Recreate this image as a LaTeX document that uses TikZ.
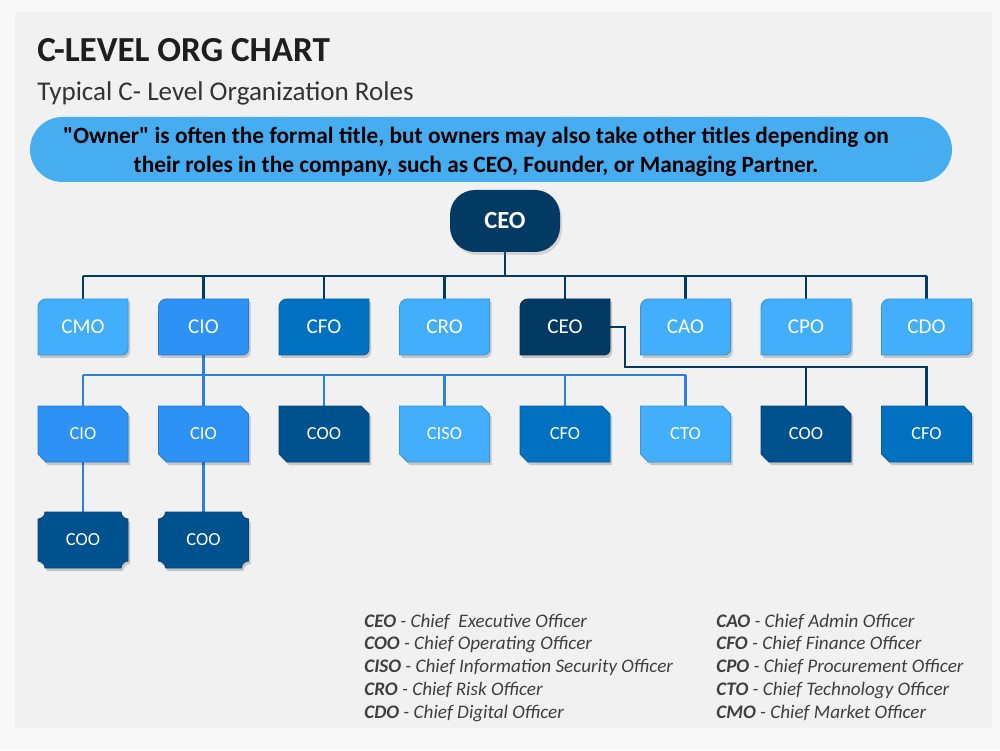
\documentclass[tikz,border=0pt]{standalone}
\usepackage{fontspec}
\setmainfont{Carlito}
\usetikzlibrary{calc,shadows}
\pgfdeclarelayer{back}
\pgfdeclarelayer{wires}
\pgfdeclarelayer{boxes}
\pgfsetlayers{back,wires,boxes,main}

% box outlines, drawn round the centre of a node (1.8cm x 1.12cm)
\tikzset{boxline/.style={fill=#1,draw=#1!85!black,line width=0.5pt,
  preaction={fill=black,opacity=0.18,transform canvas={shift={(0.04,-0.06)}}}}}
\newcommand\topshape[2]{%
  \filldraw[shift={(#1.center)},boxline=#2]
    (-0.9,-0.56) -- (-0.9,0.4) arc[start angle=180,end angle=90,radius=0.16]
    -- (0.9,0.56) -- (0.9,-0.44) arc[start angle=0,end angle=-90,radius=0.12] -- cycle;}
\newcommand\midshape[2]{%
  \filldraw[shift={(#1.center)},boxline=#2]
    (-0.9,-0.4) -- (-0.9,0.56) -- (0.74,0.56) -- (0.9,0.4)
    -- (0.9,-0.56) -- (-0.74,-0.56) -- cycle;}
\newcommand\lowshape[2]{%
  \filldraw[shift={(#1.center)},boxline=#2]
    (-0.9,-0.42) -- (-0.9,0.42) arc[start angle=-90,end angle=0,radius=0.14]
    -- (0.76,0.56) arc[start angle=180,end angle=270,radius=0.14]
    -- (0.9,-0.42) arc[start angle=90,end angle=180,radius=0.14]
    -- (-0.76,-0.56) arc[start angle=0,end angle=90,radius=0.14] -- cycle;}

\begin{document}
\begin{tikzpicture}[x=1cm,y=1cm,line cap=round,line join=round,
  unit/.style={minimum width=1.8cm,minimum height=1.12cm,inner sep=0pt,text=white},
  topunit/.style={unit,font=\fontsize{12}{14}\selectfont,
    append after command={\pgfextra{\begin{pgfonlayer}{boxes}\topshape{\tikzlastnode}{#1}\end{pgfonlayer}}}},
  midunit/.style={unit,font=\fontsize{10.5}{12}\selectfont,
    append after command={\pgfextra{\begin{pgfonlayer}{boxes}\midshape{\tikzlastnode}{#1}\end{pgfonlayer}}}},
  lowunit/.style={unit,font=\fontsize{10.5}{12}\selectfont,
    append after command={\pgfextra{\begin{pgfonlayer}{boxes}\lowshape{\tikzlastnode}{#1}\end{pgfonlayer}}}},
  key/.style={anchor=base west,inner sep=0pt,text=keytxt,
    font=\fontsize{10.9}{12}\selectfont\itshape}]
  \definecolor{pagebg}{HTML}{F8F8F8}
  \definecolor{panel}{HTML}{F1F1F1}
  \definecolor{note}{HTML}{47ADF1}
  \definecolor{navy}{HTML}{023A63}
  \definecolor{deep}{HTML}{00528F}
  \definecolor{mid}{HTML}{0070C0}
  \definecolor{sky}{HTML}{2D91F5}
  \definecolor{pale}{HTML}{42AEFC}
  \definecolor{wire}{HTML}{2F80D8}
  \definecolor{ink}{HTML}{1E1E1E}
  \definecolor{subtxt}{HTML}{333333}
  \definecolor{keytxt}{HTML}{3F3F3F}

  \begin{pgfonlayer}{back}
    \fill[pagebg] (0,0) rectangle (20,15);
    \fill[panel] (0.3,0.44) rectangle (19.84,14.76);
  \end{pgfonlayer}

  % heading
  \node[ink,anchor=base west,inner sep=0pt,font=\bfseries\fontsize{20}{24}\selectfont]
    (title) at (0.74,13.76) {C-LEVEL ORG CHART};
  \node[subtxt,anchor=base west,inner sep=0pt,font=\fontsize{15.4}{18}\selectfont]
    (subtitle) at (0.74,12.98) {Typical C- Level Organization Roles};

  % note band
  \node[fill=note,rounded corners=0.65cm,minimum width=18.44cm,minimum height=1.3cm]
    (band) at (9.82,12.01) {};
  \node[align=center,inner sep=0pt,font=\bfseries\fontsize{13.3}{16.5}\selectfont]
    (notetext) at (9.52,11.96) {\textquotedbl Owner\textquotedbl{} is often the formal title, but owners may also take other titles depending on\\
    their roles in the company, such as CEO, Founder, or Managing Partner.};

  % top of the chart
  \node[fill=navy,text=white,rounded corners=0.5cm,minimum width=2.2cm,minimum height=1.24cm,
    font=\bfseries\fontsize{14}{16}\selectfont,
    drop shadow={opacity=0.25,shadow xshift=0.04cm,shadow yshift=-0.06cm}]
    (ceo) at (10.1,10.58) {CEO};

  % first row
  \node[topunit=pale] (cmo) at (1.66,8.46) {CMO};
  \node[topunit=sky] (cio) at (4.07,8.46) {CIO};
  \node[topunit=mid] (cfo) at (6.48,8.46) {CFO};
  \node[topunit=pale] (cro) at (8.89,8.46) {CRO};
  \node[topunit=navy] (ceob) at (11.30,8.46) {CEO};
  \node[topunit=pale] (cao) at (13.71,8.46) {CAO};
  \node[topunit=pale] (cpo) at (16.12,8.46) {CPO};
  \node[topunit=pale] (cdo) at (18.53,8.46) {CDO};

  % second row
  \node[midunit=sky] (cioA) at (1.66,6.32) {CIO};
  \node[midunit=sky] (cioB) at (4.07,6.32) {CIO};
  \node[midunit=deep] (cooA) at (6.48,6.32) {COO};
  \node[midunit=pale] (ciso) at (8.89,6.32) {CISO};
  \node[midunit=mid] (cfoA) at (11.30,6.32) {CFO};
  \node[midunit=pale] (cto) at (13.71,6.32) {CTO};
  \node[midunit=deep] (cooB) at (16.12,6.32) {COO};
  \node[midunit=mid] (cfoB) at (18.53,6.32) {CFO};

  % third row
  \node[lowunit=deep] (cooC) at (1.66,4.2) {COO};
  \node[lowunit=deep] (cooD) at (4.07,4.2) {COO};

  % connectors (under the boxes)
  \coordinate (topbus) at (0,9.48);
  \coordinate (bluebus) at (0,7.5);
  \coordinate (bend) at (12.5,7.66);
  \begin{pgfonlayer}{wires}
    \draw[navy,line width=1.4pt] (ceo.center) -- (ceo |- topbus);
    \draw[navy,line width=1.4pt] (cmo |- topbus) -- (cdo |- topbus);
    \foreach \n in {cmo,cio,cfo,cro,ceob,cao,cpo,cdo}
      \draw[navy,line width=1.4pt] (\n |- topbus) -- (\n.center);
    \draw[wire,line width=1.2pt] (cio.center) -- (cio |- bluebus);
    \draw[wire,line width=1.2pt] (cioA |- bluebus) -- (cto |- bluebus);
    \foreach \n in {cioA,cioB,cooA,ciso,cfoA,cto}
      \draw[wire,line width=1.2pt] (\n |- bluebus) -- (\n.center);
    \draw[wire,line width=1.2pt] (cioA.center) -- (cooC.center);
    \draw[wire,line width=1.2pt] (cioB.center) -- (cooD.center);
    \draw[navy,line width=1.4pt] (ceob.center) -| (bend) -| (cfoB.center);
    \draw[navy,line width=1.4pt] (cooB |- bend) -- (cooB.center);
  \end{pgfonlayer}

  % key
  \node[key] (kceo) at (7.28,2.46) {\textbf{CEO} - Chief~ Executive Officer};
  \node[key] (kcoo) at (7.28,2.005) {\textbf{COO} - Chief Operating Officer};
  \node[key] (kciso) at (7.28,1.55) {\textbf{CISO} - Chief Information Security Officer};
  \node[key] (kcro) at (7.28,1.095) {\textbf{CRO} - Chief Risk Officer};
  \node[key] (kcdo) at (7.28,0.64) {\textbf{CDO} - Chief Digital Officer};
  \node[key] (kcao) at (14.32,2.46) {\textbf{CAO} - Chief Admin Officer};
  \node[key] (kcfo) at (14.32,2.005) {\textbf{CFO} - Chief Finance Officer};
  \node[key] (kcpo) at (14.32,1.55) {\textbf{CPO} - Chief Procurement Officer};
  \node[key] (kcto) at (14.32,1.095) {\textbf{CTO} - Chief Technology Officer};
  \node[key] (kcmo) at (14.32,0.64) {\textbf{CMO} - Chief Market Officer};
\end{tikzpicture}
\end{document}
